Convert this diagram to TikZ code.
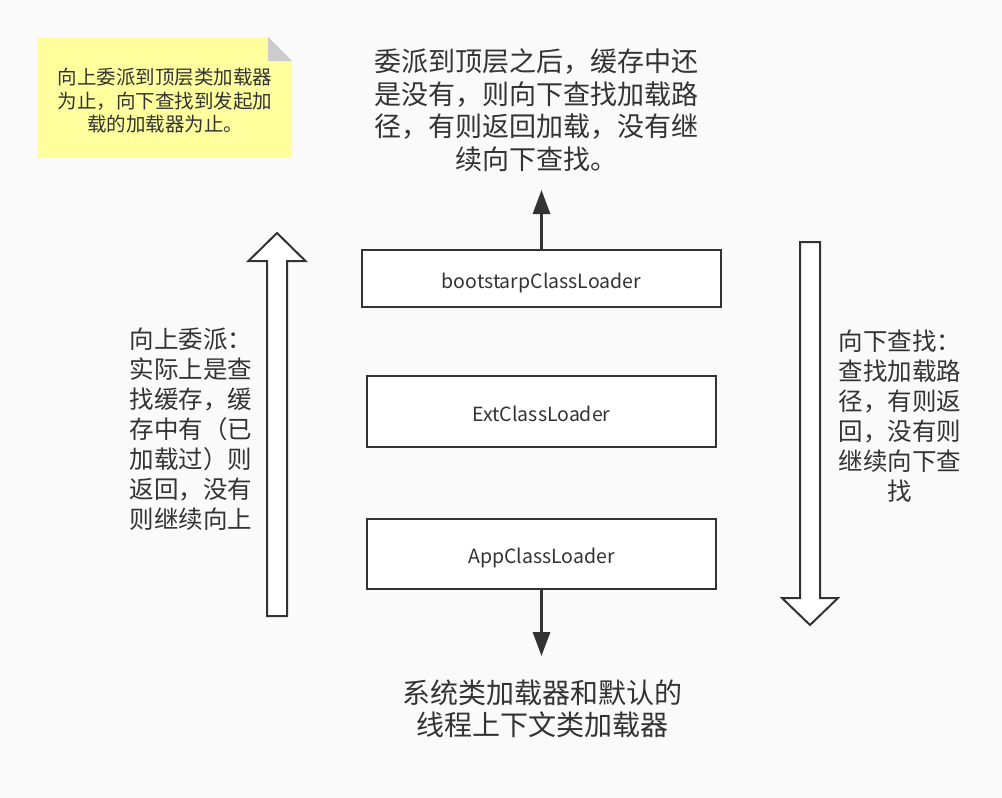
\documentclass[tikz,border=0pt]{standalone}
\usepackage{fontspec}
\setmainfont{Noto Sans CJK SC}
\usetikzlibrary{arrows.meta}
\definecolor{ink}{HTML}{333333}
\definecolor{paper}{HTML}{FAFAFA}
\definecolor{memo}{HTML}{FFFF9E}
\definecolor{fold}{HTML}{CCCCCC}

\begin{document}
\begin{tikzpicture}[x=1pt, y=-1pt]
    \tikzset{%
      loader/.style={rectangle, draw=ink, line width=2.5pt, fill=white,
        inner sep=0pt, text=ink, text height=19pt, text depth=0pt,
        font=\fontsize{19.5}{23}\selectfont},
      flow/.style={draw=ink, line width=3pt,
        -{Triangle[length=24pt, width=17pt]}},
      hollow/.style={draw=ink, line width=2pt, fill=white, line join=miter},
      say/.style={align=center, text=ink, inner sep=0pt},
    }
    \fill[paper] (0,0) rectangle (1002,798);
    \useasboundingbox (0,0) rectangle (1002,798);

    % note in the corner
    \fill[memo] (37,37) -- (268,37) -- (292,61) -- (292,158) -- (37,158) -- cycle;
    \fill[fold] (268,37) -- (292,61) -- (268,61) -- cycle;
    \node[say, font=\fontsize{19.5}{23.5}\selectfont] (note) at (165,101)
      {向上委派到顶层类加载器\\为止，向下查找到发起加\\载的加载器为止。};

    % the three loaders
    \node[loader, minimum width=359pt, minimum height=57pt] (boot) at (541.5,278.5) {bootstarpClassLoader};
    \node[loader, minimum width=349pt, minimum height=71pt] (ext) at (541.5,411.5) {ExtClassLoader};
    \node[loader, minimum width=349pt, minimum height=70pt] (app) at (541.5,554) {AppClassLoader};

    % out of the top and the bottom
    \coordinate (topend) at (541.5,190);
    \coordinate (botend) at (541.5,656);
    \draw[flow] (boot.north) -- (topend);
    \draw[flow] (app.south) -- (botend);
    \node[say, font=\fontsize{27}{32.5}\selectfont] (toptext) at (536,110)
      {委派到顶层之后，缓存中还\\是没有，则向下查找加载路\\径，有则返回加载，没有继\\续向下查找。};
    \node[say, font=\fontsize{28}{32.5}\selectfont] (bottext) at (542,709)
      {系统类加载器和默认的\\线程上下文类加载器};

    % up the chain
    \draw[hollow] (267,616) -- (267,261) -- (248.5,261) -- (277,233) -- (305.5,261)
      -- (287,261) -- (287,616) -- cycle;
    \node[say, font=\fontsize{24.5}{30}\selectfont] (uptext) at (191,429)
      {向上委派：\\实际上是查\\找缓存，缓\\存中有（已\\加载过）则\\返回，没有\\则继续向上};

    % down the chain
    \draw[hollow] (800,242) -- (820,242) -- (820,598) -- (838,598) -- (810,625)
      -- (782,598) -- (800,598) -- cycle;
    \node[say, font=\fontsize{24.5}{30}\selectfont] (downtext) at (900,416)
      {向下查找：\\查找加载路\\径，有则返\\回，没有则\\继续向下查\\找};
\end{tikzpicture}
\end{document}
